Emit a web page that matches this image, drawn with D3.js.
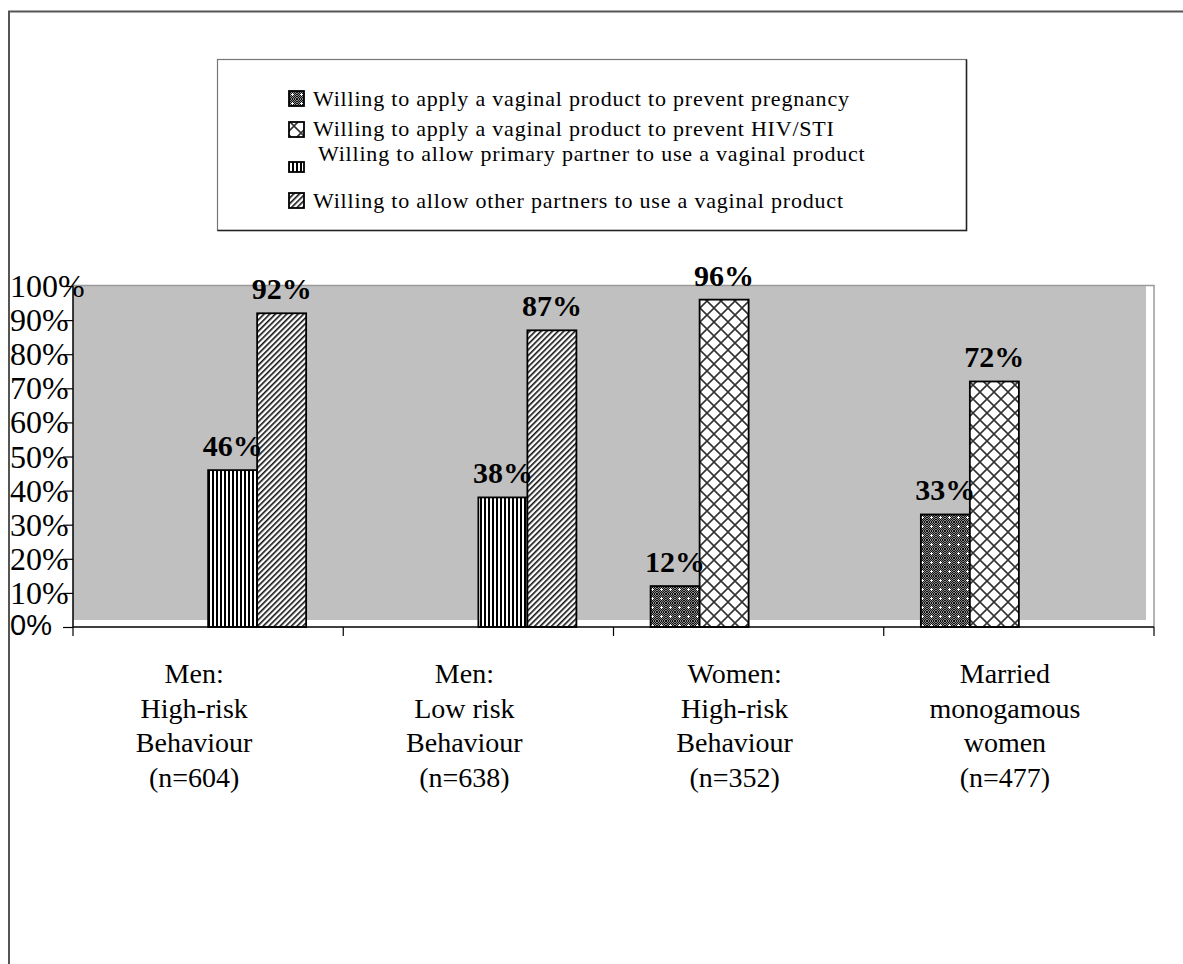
<!DOCTYPE html>
<html>
<head>
<meta charset="utf-8">
<script src="https://cdn.jsdelivr.net/npm/d3@7"></script>
<style>
  html, body { margin: 0; padding: 0; background: #fff; }
  svg { display: block; }
</style>
</head>
<body>
<svg id="chart" width="1183" height="964"></svg>
<script>
// Survey groups (x-axis categories), each wrapped over several lines
const categories = ["g1", "g2", "g3", "g4"];
const categoryLines = [
  ["Men:", "High-risk", "Behaviour", "(n=604)"],
  ["Men:", "Low risk", "Behaviour", "(n=638)"],
  ["Women:", "High-risk", "Behaviour", "(n=352)"],
  ["Married", "monogamous", "women", "(n=477)"]
];

// Series names shown in the legend
const seriesNames = [
  "Willing to apply a vaginal product to prevent pregnancy",
  "Willing to apply a vaginal product to prevent HIV/STI",
  "Willing to allow primary partner to use a vaginal product",
  "Willing to allow other partners to use a vaginal product"
];

// Percentages per series, one value per category (null = not asked)
const pregnancyValues = [null, null, 12, 33];
const hivStiValues    = [null, null, 96, 72];
const primaryValues   = [46, 38, null, null];
const otherValues     = [92, 87, null, null];
const seriesValues = [pregnancyValues, hivStiValues, primaryValues, otherValues];

// Y-axis tick labels
const yTicks = [0, 10, 20, 30, 40, 50, 60, 70, 80, 90, 100];

const serif = "'Liberation Serif', 'Times New Roman', serif";
const sans = "'Liberation Sans', Arial, sans-serif";

const svg = d3.select("#chart");
const defs = svg.append("defs");

// ---- fill patterns ----
// fine checker used as the base of the dotted pattern
const chk = defs.append("pattern").attr("id", "chk")
  .attr("patternUnits", "userSpaceOnUse").attr("width", 2).attr("height", 2);
chk.append("rect").attr("width", 2).attr("height", 2).attr("fill", "#8a8a8a");
chk.append("rect").attr("width", 1).attr("height", 1).attr("fill", "#111");
chk.append("rect").attr("x", 1).attr("y", 1).attr("width", 1).attr("height", 1).attr("fill", "#111");

const pDots = defs.append("pattern").attr("id", "pat0")
  .attr("patternUnits", "userSpaceOnUse").attr("width", 9).attr("height", 9);
pDots.append("rect").attr("width", 9).attr("height", 9).attr("fill", "url(#chk)");
pDots.append("rect").attr("x", 4).attr("y", 3).attr("width", 1).attr("height", 3).attr("fill", "#fff");
pDots.append("rect").attr("x", 3).attr("y", 4).attr("width", 3).attr("height", 1).attr("fill", "#fff");

const pCross = defs.append("pattern").attr("id", "pat1")
  .attr("patternUnits", "userSpaceOnUse").attr("width", 14).attr("height", 14);
pCross.append("rect").attr("width", 14).attr("height", 14).attr("fill", "#fff");
pCross.append("path").attr("d", "M0,0L14,14M14,0L0,14M-1,13L1,15M13,-1L15,1")
  .attr("stroke", "#333").attr("stroke-width", 1.6);

const pVert = defs.append("pattern").attr("id", "pat2")
  .attr("patternUnits", "userSpaceOnUse").attr("width", 4).attr("height", 4);
pVert.append("rect").attr("width", 4).attr("height", 4).attr("fill", "#fff");
pVert.append("rect").attr("x", 0).attr("width", 2).attr("height", 4).attr("fill", "#000");

const pDiag = defs.append("pattern").attr("id", "pat3")
  .attr("patternUnits", "userSpaceOnUse").attr("width", 4).attr("height", 4)
  .attr("patternTransform", "rotate(45)");
pDiag.append("rect").attr("width", 4).attr("height", 4).attr("fill", "#fff");
pDiag.append("rect").attr("width", 1.6).attr("height", 4).attr("fill", "#111");

const fills = seriesNames.map((_, i) => `url(#pat${i})`);

// ---- outer frame ----
svg.append("rect")
  .attr("x", 9).attr("y", 11.5).attr("width", 1300).attr("height", 1100)
  .attr("fill", "none").attr("stroke", "#555").attr("stroke-width", 2);

// ---- scales ----
const plot = { left: 73, right: 1154, top: 286, bottom: 627 };
const x = d3.scaleBand().domain(categories).range([plot.left, plot.right]).padding(0);
const xs = d3.scaleBand().domain(d3.range(seriesNames.length))
  .range([0, x.bandwidth()]).paddingInner(0).paddingOuter(0.757);
const y = d3.scaleLinear().domain([0, 100]).range([plot.bottom, plot.top]);

// ---- plot area ----
svg.append("rect")
  .attr("x", plot.left).attr("y", plot.top)
  .attr("width", plot.right - 8 - plot.left).attr("height", plot.bottom - 7 - plot.top)
  .attr("fill", "#c0c0c0");
svg.append("path")
  .attr("d", `M${plot.left},${plot.top - 0.5}H${plot.right}V${plot.bottom}`)
  .attr("fill", "none").attr("stroke", "#9a9a9a").attr("stroke-width", 1.5);

// ---- bars ----
const barData = [];
seriesValues.forEach((vals, si) => {
  vals.forEach((v, ci) => {
    if (v !== null) barData.push({ si, cat: categories[ci], v });
  });
});

svg.append("g").selectAll("rect").data(barData).join("rect")
  .attr("x", d => x(d.cat) + xs(d.si))
  .attr("y", d => y(d.v))
  .attr("width", xs.bandwidth())
  .attr("height", d => y(0) - y(d.v))
  .attr("fill", d => fills[d.si])
  .attr("stroke", "#000").attr("stroke-width", 1.8);

// value labels
svg.append("g").selectAll("text").data(barData).join("text")
  .attr("x", d => x(d.cat) + xs(d.si) + xs.bandwidth() / 2)
  .attr("y", d => y(d.v) - 14)
  .attr("text-anchor", "middle")
  .attr("font-family", serif).attr("font-weight", "bold").attr("font-size", 30)
  .attr("fill", "#000")
  .text(d => d.v + "%");

// ---- axes ----
const xAxis = d3.axisBottom(x).tickValues([]).tickSize(0);
const gx = svg.append("g").attr("transform", `translate(0,${plot.bottom})`).call(xAxis);
gx.select(".domain").attr("stroke", "#000").attr("stroke-width", 1.5).attr("d", `M${plot.left},0H${plot.right}`);
// category boundary ticks
const bounds = categories.map(c => x(c)).concat([plot.right]);
gx.selectAll("line.bound").data(bounds).join("line").attr("class", "bound")
  .attr("x1", d => d).attr("x2", d => d).attr("y1", 0).attr("y2", 9)
  .attr("stroke", "#000").attr("stroke-width", 1.2);

const yAxis = d3.axisLeft(y).tickValues(yTicks).tickSize(10).tickFormat("");
const gy = svg.append("g").attr("transform", `translate(${plot.left},0)`).call(yAxis);
gy.select(".domain").attr("stroke", "#000").attr("stroke-width", 1.5)
  .attr("d", `M0,${plot.top}V${plot.bottom}`);
gy.selectAll(".tick line").attr("stroke", "#000").attr("stroke-width", 1.2);

// y tick labels, left-aligned against the frame
svg.append("g").selectAll("text").data(yTicks).join("text")
  .attr("x", 10)
  .attr("y", d => y(d) + (d === 0 ? 8 : 11))
  .attr("font-family", d => d === 0 ? sans : serif)
  .attr("font-size", d => d === 0 ? 29 : 32)
  .attr("fill", "#000")
  .text(d => d + "%");

// category labels
const catG = svg.append("g").selectAll("g").data(categories).join("g");
catG.selectAll("text").data((c, i) => categoryLines[i].map(t => ({ c, t })))
  .join("text")
  .attr("x", d => x(d.c) + x.bandwidth() / 2 - 14)
  .attr("y", (d, i) => 683 + i * 34.5)
  .attr("text-anchor", "middle")
  .attr("font-family", serif).attr("font-size", 28)
  .attr("fill", "#000")
  .text(d => d.t);

// ---- legend ----
const legend = svg.append("g");
legend.append("rect")
  .attr("x", 217.5).attr("y", 59.5).attr("width", 749).attr("height", 171)
  .attr("fill", "#fff").attr("stroke", "#777").attr("stroke-width", 1.2);
legend.append("path")
  .attr("d", "M966.5,59.5V230.5H217.5")
  .attr("fill", "none").attr("stroke", "#222").attr("stroke-width", 1.5);

const legendItems = [
  { text: 106, box: 91, h: 15 },
  { text: 136, box: 122, h: 15 },
  { text: 161, box: 162, h: 10 },
  { text: 208, box: 193, h: 15 }
];
const li = legend.selectAll("g.item").data(seriesNames).join("g").attr("class", "item");
li.append("rect")
  .attr("x", 289).attr("y", (d, i) => legendItems[i].box)
  .attr("width", 15).attr("height", (d, i) => legendItems[i].h)
  .attr("fill", (d, i) => fills[i])
  .attr("stroke", "#000").attr("stroke-width", 1.8);
li.append("text")
  .attr("x", (d, i) => i === 2 ? 318 : 313)
  .attr("y", (d, i) => legendItems[i].text)
  .attr("font-family", serif).attr("font-size", 22)
  .attr("letter-spacing", 0.8).attr("fill", "#000")
  .text(d => d);
</script>
</body>
</html>
